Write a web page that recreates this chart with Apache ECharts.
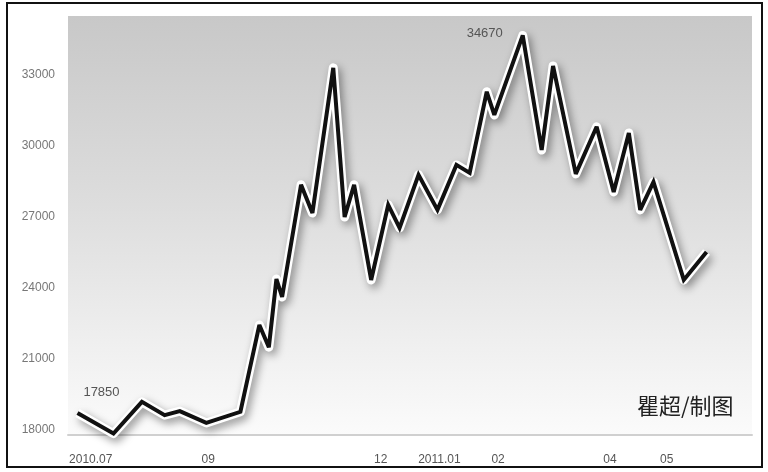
<!DOCTYPE html>
<html>
<head>
<meta charset="utf-8">
<script src="https://cdn.jsdelivr.net/npm/echarts@6/dist/echarts.min.js"></script>
<style>html,body{margin:0;padding:0;background:#fff}#c{width:768px;height:472px}</style>
</head>
<body>
<div id="c"></div>
<script>
const dates = ['2010-06-24','2010-07-13','2010-07-28','2010-08-09','2010-08-17','2010-08-31','2010-09-18','2010-09-28','2010-10-03','2010-10-07','2010-10-10','2010-10-20','2010-10-26','2010-11-06','2010-11-12','2010-11-17','2010-11-26','2010-12-05','2010-12-11','2010-12-21','2010-12-31','2011-01-10','2011-01-17','2011-01-26','2011-01-30','2011-02-14','2011-02-24','2011-03-02','2011-03-14','2011-03-25','2011-04-03','2011-04-11','2011-04-17','2011-04-24','2011-05-10','2011-05-22'];
const prices = [18720,17850,19190,18630,18800,18300,18770,22440,21500,24380,23620,28360,27170,33300,27000,28360,24340,27510,26540,28780,27300,29200,28860,32290,31310,34670,29830,33380,28820,30810,28060,30550,27300,28480,24340,25520];
const tickDates = ['2010-07-01','2010-09-01','2010-12-01','2011-01-01','2011-02-01','2011-04-01','2011-05-01'];
const tickLabels = ['2010.07','09','12','2011.01','02','04','05'];
const yTicks = [18000,21000,24000,27000,30000,33000];

const toT = d => Date.UTC(+d.slice(0,4), +d.slice(5,7)-1, +d.slice(8,10));
const minIdx = prices.indexOf(Math.min(...prices));
const maxIdx = prices.indexOf(Math.max(...prices));
const seriesData = dates.map((d,i)=>{
  const item = {value:[toT(d),prices[i]]};
  if(i===minIdx || i===maxIdx) item.label={show:true};
  return item;
});
const tickTimes = tickDates.map(toT);

const chart = echarts.init(document.getElementById('c'));
chart.setOption({
  animation:false,
  backgroundColor:'#fff',
  textStyle:{fontFamily:'Liberation Sans, Arial, sans-serif'},
  grid:{left:68,right:16,top:16,bottom:37,show:true,borderWidth:0,
    backgroundColor:new echarts.graphic.LinearGradient(0,0,0,1,[
      {offset:0,color:'#c8c8c8'},{offset:0.45,color:'#dddddd'},{offset:0.85,color:'#f3f3f3'},{offset:1,color:'#fbfbfb'}])},
  xAxis:{type:'value',min:toT('2010-06-19'),max:toT('2011-06-15'),
    axisLine:{show:true,lineStyle:{color:'#d0d0d0',width:2}},
    axisTick:{show:false},splitLine:{show:false},
    axisLabel:{customValues:tickTimes,color:'#555',fontSize:12,margin:19,
      formatter:function(v){const i=tickTimes.indexOf(v);return i>=0?tickLabels[i]:'';}}},
  yAxis:{type:'value',min:17790,max:35490,
    axisLine:{show:false},axisTick:{show:false},splitLine:{show:false},
    axisLabel:{customValues:yTicks,color:'#777',fontSize:12,margin:13,
      formatter:function(v){return String(v);}}},
  graphic:[
    {type:'rect',shape:{x:7,y:3,width:755,height:464},style:{fill:'none',stroke:'#111',lineWidth:2},z:100},
    {type:'text',left:637,top:395,style:{text:'瞿超/制图',font:'22px "Noto Sans CJK SC", sans-serif',fill:'#222'},z:100}
  ],
  series:[
    {type:'line',data:seriesData.map(d=>d.value),symbol:'none',clip:false,silent:true,z:2,
      lineStyle:{color:'#fff',width:9,join:'round',shadowColor:'rgba(0,0,0,0.4)',shadowBlur:8,shadowOffsetX:3,shadowOffsetY:4}},
    {type:'line',data:seriesData,symbol:'circle',symbolSize:1,showAllSymbol:true,clip:false,z:3,
      itemStyle:{color:'rgba(0,0,0,0)'},
      label:{show:false,formatter:function(p){return p.value[1];},color:'#555',fontSize:13},
      labelLayout:function(p){
        if(p.dataIndex===maxIdx) return {dx:-38,dy:10,hideOverlap:false};
        if(p.dataIndex===minIdx) return {dx:-12,dy:-29,hideOverlap:false};
        return {};
      },
      lineStyle:{color:'#111',width:4,join:'miter',miterLimit:3}}
  ]
});
</script>
</body>
</html>
